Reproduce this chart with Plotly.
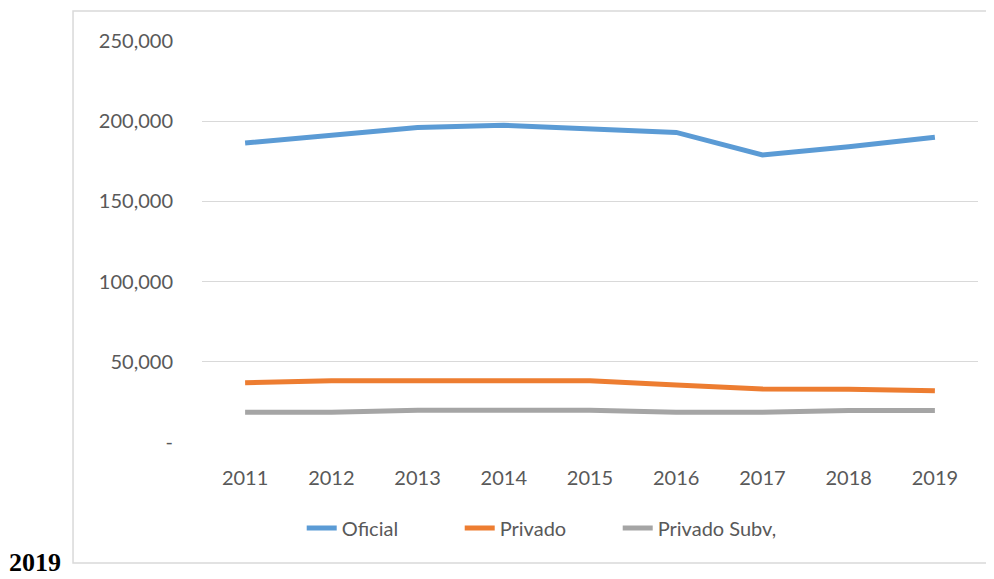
import plotly.graph_objects as go

# Values
years = ["2011", "2012", "2013", "2014", "2015", "2016", "2017", "2018", "2019"]
oficial = [186400, 191000, 196000, 197500, 195000, 193000, 179000, 184000, 190000]
privado = [37000, 38200, 38200, 38200, 38200, 35500, 33000, 32900, 32000]
privado_subv = [18500, 18500, 19800, 19800, 19800, 18500, 18500, 19700, 19700]

ytick_vals = [0, 50000, 100000, 150000, 200000, 250000]
ytick_text = ["-", "50,000", "100,000", "150,000", "200,000", "250,000"]

font_main = "Lato, 'Open Sans', sans-serif"

fig = go.Figure()
fig.add_trace(go.Scatter(x=years, y=oficial, name="Oficial", mode="lines",
                         line=dict(color="#5B9BD5", width=5)))
fig.add_trace(go.Scatter(x=years, y=privado, name="Privado", mode="lines",
                         line=dict(color="#ED7D31", width=5)))
fig.add_trace(go.Scatter(x=years, y=privado_subv, name="Privado Subv,", mode="lines",
                         line=dict(color="#A5A5A5", width=5)))

# outer chart box
fig.add_shape(type="rect", xref="paper", yref="paper",
              x0=-0.1662, x1=1.0193, y0=-0.3017, y1=1.0748,
              line=dict(color="#d9d9d9", width=1.5), layer="below")

fig.add_annotation(text="<b>2019</b>", xref="paper", yref="paper",
                   x=-0.2152, y=-0.3416, showarrow=False,
                   xanchor="center", yanchor="bottom",
                   font=dict(family="Liberation Serif, serif", size=26, color="black"))

# page body has an 8px margin, so the figure is shifted by that amount
fig.update_layout(
    width=986, height=571,
    margin=dict(l=194, r=16, t=33, b=137),
    plot_bgcolor="white", paper_bgcolor="white",
    font=dict(family=font_main, size=20, color="#595959"),
    showlegend=True,
    legend=dict(orientation="h", x=0.1285, xanchor="left", y=-0.2145, yanchor="middle",
                font=dict(size=20, color="#595959"),
                entrywidth=113, entrywidthmode="pixels"),
)
fig.update_xaxes(type="category", range=[-0.5, 8.5], showgrid=False,
                 showline=False, ticks="outside", ticklen=0, ticklabelstandoff=18)
fig.update_yaxes(range=[0, 250000], tickvals=ytick_vals, ticktext=ytick_text,
                 showgrid=True, gridcolor="#d9d9d9", gridwidth=1.3, zeroline=False,
                 showline=False, ticks="outside", ticklen=0, ticklabelstandoff=24)

fig.write_html("out.html")
